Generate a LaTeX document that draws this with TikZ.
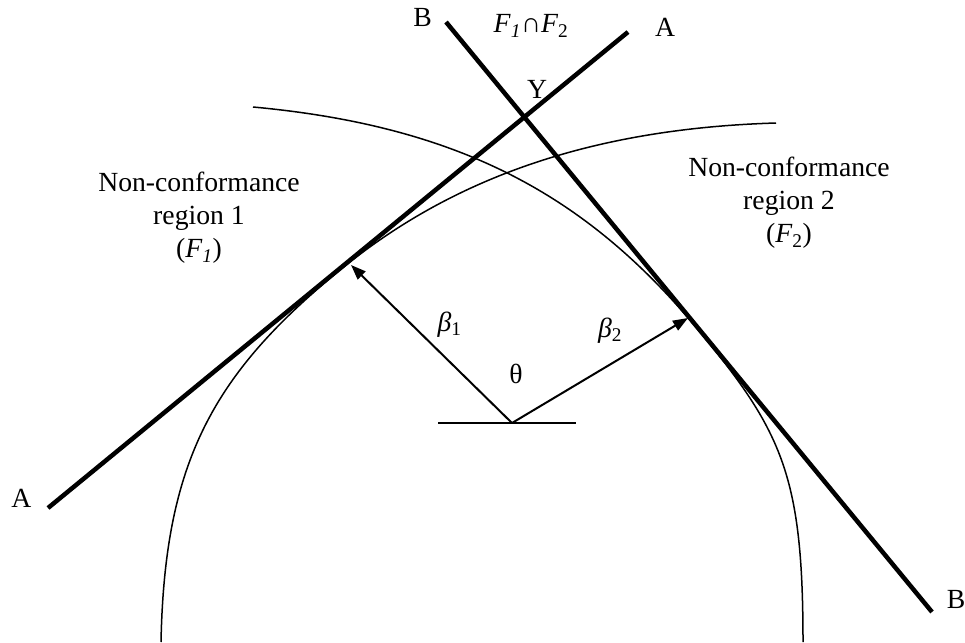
\documentclass[tikz,border=0pt]{standalone}
\usepackage{fontspec}
\setmainfont{Liberation Serif}
\usetikzlibrary{arrows.meta}

\begin{document}
\begin{tikzpicture}[x=1pt, y=-1pt,
      bound/.style={line width=4.5pt},
      rim/.style={line width=1.5pt},
      vec/.style={line width=2pt, -{Triangle[length=15pt, width=11pt]}},
      lbl/.style={inner sep=0pt, font=\fontsize{27.7pt}{33pt}\selectfont}]
  \useasboundingbox (0,0) rectangle (965,642);
  % the two tolerance arcs
  \draw[rim] (253,107) .. controls (462.2,126.3) and (588.9,196.9) .. (700,332)
      .. controls (782.6,432.4) and (803,477) .. (803,642);
  \draw[rim] (776,123) .. controls (586,128.7) and (448.2,181.2) .. (340,270)
      .. controls (212.5,374.6) and (164.6,462) .. (161,642);
  % boundary lines A-A and B-B
  \coordinate (A1) at (48,508);
  \coordinate (A2) at (628,32);
  \coordinate (B1) at (446,22);
  \coordinate (B2) at (932,612);
  \draw[bound] (A1) -- (A2);
  \draw[bound] (B1) -- (B2);
  % origin and the two vectors
  \coordinate (O) at (512,423);
  \coordinate (T1) at (351,265);
  \coordinate (T2) at (688,318);
  \draw[rim] (438,423) -- (576,423);
  \draw[vec] (O) -- (T1);
  \draw[vec] (O) -- (T2);
  % labels
  \node[lbl, anchor=base] (Atop) at (665,37) {A};
  \node[lbl, anchor=base] (Abot) at (21.5,507) {A};
  \node[lbl, anchor=base] (Btop) at (422.5,27) {B};
  \node[lbl, anchor=base] (Bbot) at (956,608) {B};
  \node[lbl, anchor=base] (Y) at (537,98) {Y};
  \node[lbl, anchor=base] (cap) at (531,33)
      {\textit{F}\textsubscript{\textit{1}}∩\textit{F}\textsubscript{2}};
  \node[lbl, anchor=base] (b1) at (449.5,331) {\textit{β}\textsubscript{1}};
  \node[lbl, anchor=base] (b2) at (610,337) {\textit{β}\textsubscript{2}};
  \node[lbl, anchor=base] (th) at (516,383) {θ};
  \node[lbl, align=center] (reg1) at (199,218)
      {Non-conformance\\region 1\\(\textit{F}\textsubscript{\textit{1}})};
  \node[lbl, align=center] (reg2) at (789,203)
      {Non-conformance\\region 2\\(\textit{F}\textsubscript{2})};
\end{tikzpicture}
\end{document}
